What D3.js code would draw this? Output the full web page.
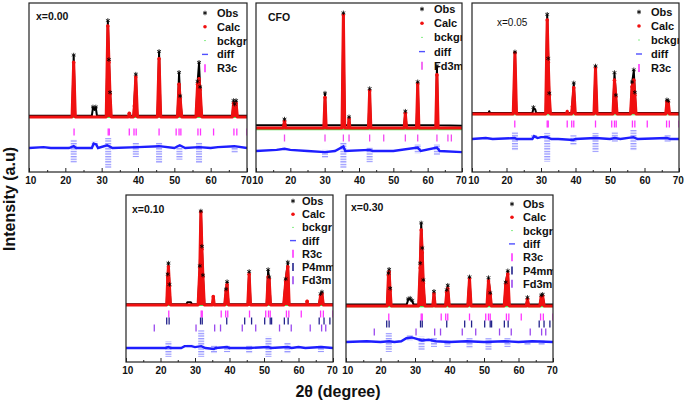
<!DOCTYPE html>
<html>
<head>
<meta charset="utf-8">
<script src="https://cdn.jsdelivr.net/npm/d3@7"></script>
<style>
  body { margin: 0; background: #fff; }
  text { font-family: "Liberation Sans", Arial, sans-serif; }
</style>
</head>
<body>
<script>
// ---- data (2theta in degrees, intensity in arbitrary units, tallest calc peak = 100) ----

// x = 0.00
var calc00 = [[10,0],[21.85,0],[22.3,60],[22.75,0],[31.25,0],[31.7,100],[32.0,60],[32.3,25],[32.65,0],
  [37.35,0],[37.6,4],[37.85,0],[38.75,0],[39.0,12],[39.4,44],[39.85,0],[45.35,0],[45.8,64],[46.25,0],
  [50.85,0],[51.3,36],[51.6,20],[52.05,0],[55.95,0],[56.4,36],[56.8,42],[57.1,30],[57.55,0],
  [65.95,0],[66.3,15],[66.6,12],[67.0,15],[67.35,0],[70,0]];
var obs00 = [[10,1.5],[21.9,1.5],[22.3,67],[22.7,1.5],[27.3,1.5],[27.6,10],[28.0,8],[28.4,10],[28.7,1.5],
  [31.3,1.5],[31.7,105],[32.0,62],[32.3,26],[32.6,1.5],[38.8,1.5],[39.4,46],[39.8,1.5],[45.4,1.5],[45.8,71],[46.2,1.5],
  [50.9,1.5],[51.3,48],[51.6,22],[52.0,1.5],[56.0,1.5],[56.4,38],[56.8,59],[57.1,32],[57.5,1.5],
  [66.0,1.5],[66.3,17],[66.6,13],[67.0,17],[67.3,1.5],[70,1.5]];
var bck00 = [[10,-0.5],[70,-0.5]];
var diff00 = [[10,0],[14,1],[16,0],[21,0],[22.3,2],[23,0],[27.3,0],[27.8,5],[28.5,4],[29,0],[31.5,3],[32.5,1],[33,0],
  [40,1],[45.8,2],[50,0],[51.5,3],[53,0],[56.8,1],[60,0],[62,1],[66.5,2],[70,0]];
var spread00 = [[22.3,9,16],[28.1,7,-2],[31.8,11,22],[39.4,5.5,10],[45.8,6.5,16.5],[51.4,3.5,13],[56.8,6.5,16.5],[66.6,1.5,5.5]];

// CFO
var calcCFO = [[10,0],[17.95,0],[18.3,6],[18.65,0],[29.75,0],[30.1,27],[30.45,0],[35.05,0],[35.45,100],[35.85,0],
  [36.85,0],[37.1,8],[37.35,0],[42.75,0],[43.1,33],[43.45,0],[53.15,0],[53.5,13],[53.85,0],[56.75,0],[57.1,39],[57.45,0],
  [62.35,0],[62.7,47],[63.05,0],[70,0]];
var obsCFO = [[10,2.5],[18.0,2.5],[18.3,7],[18.6,2.5],[29.8,2.5],[30.1,30],[30.4,2.5],[35.1,2.5],[35.45,101],[35.8,2.5],
  [36.9,2.5],[37.1,9],[37.3,2.5],[42.8,2.5],[43.1,34],[43.4,2.5],[53.2,2.5],[53.5,14],[53.8,2.5],[56.8,2.5],[57.1,40],[57.4,2.5],
  [62.4,2.5],[62.7,54],[63.0,2.5],[70,2]];
var bckCFO = [[10,-1.5],[70,-1.5]];
var diffCFO = [[10,0],[16,1],[18.3,2],[20,1],[25,0],[30.1,-1],[33,0],[35.45,4],[36,0],[43.1,1],[44,0],[50,0],
  [57.1,3],[58,0],[62.7,3],[63.5,0],[70,-1]];
var spreadCFO = [[30.1,1,6],[35.45,8,15],[43.1,3.5,10],[57.1,6,2],[62.7,6,3.5]];

// x = 0.05
var calc05 = [[10,0],[21.95,0],[22.45,65],[22.9,0],[31.35,0],[31.8,100],[32.1,55],[32.4,20],[32.75,0],
  [37.35,0],[37.6,3],[37.85,0],[38.85,0],[39.1,8],[39.5,28],[39.95,0],[45.35,0],[45.8,49],[46.25,0],
  [50.85,0],[51.3,36],[51.7,18],[52.05,0],[55.95,0],[56.4,29],[56.9,36],[57.2,20],[57.55,0],
  [66.15,0],[66.5,13],[66.9,12],[67.25,0],[70,0]];
var obs05 = [[10,1],[14.8,1],[15,3],[15.2,1],[22.0,1],[22.45,65],[22.85,1],[27.5,1],[27.8,6],[28.3,5],[28.6,1],
  [31.4,1],[31.8,105],[32.1,58],[32.4,21],[32.7,1],[38.9,1],[39.5,32],[39.9,1],[45.4,1],[45.8,50],[46.2,1],
  [50.9,1],[51.3,43],[51.7,19],[52.0,1],[56.0,1],[56.4,33],[56.9,46],[57.2,22],[57.5,1],
  [66.2,1],[66.5,14],[66.9,13],[67.2,1],[70,1]];
var bck05 = [[10,-0.8],[70,-0.8]];
var diff05 = [[10,0],[14,1],[16,0],[22.4,1],[23,0],[27.5,0],[28,3],[29,1],[30,2],[31.8,2],[33,0],[35,0],
  [39.4,-1],[40,0],[45.8,1],[50,0],[51.4,1],[53,0],[56.8,2],[58,0],[66.5,1],[67.5,0],[70,0]];
var spread05 = [[22.45,7.5,12],[28,4,-1],[31.8,6.5,24],[39.4,4,6.5],[45.8,6.5,14],[51.4,7.5,3],[56.8,9.5,12],[66.7,4,3]];

// x = 0.10
var calc10 = [[10,0],[21.8,0],[22.1,30],[22.3,41],[22.6,20],[22.9,0],[30.9,0],[31.4,40],[31.7,100],[32.0,60],[32.3,30],[32.7,0],
  [35.0,0],[35.3,9],[35.6,0],[38.6,0],[39.0,15],[39.3,22],[39.7,0],[45.3,0],[45.7,33],[46.1,0],
  [50.8,0],[51.2,30],[51.5,28],[51.9,0],[55.7,0],[56.3,25],[56.9,41],[57.3,0],[62.3,0],[62.5,4],[62.7,0],
  [66.0,0],[66.4,10],[66.8,12],[67.2,0],[70,0]];
var obs10 = [[10,0.8],[21.8,0.8],[22.1,32],[22.3,44],[22.6,21],[22.9,0.8],[27.5,0.8],[27.8,3],[28.8,3],[29.1,0.8],
  [30.9,0.8],[31.4,41],[31.7,100],[32.0,62],[32.3,31],[32.7,0.8],[38.6,0.8],[39.0,16],[39.3,24],[39.7,0.8],
  [45.3,0.8],[45.7,35],[46.1,0.8],[50.8,0.8],[51.2,37],[51.5,29],[51.9,0.8],[55.7,0.8],[56.3,27],[56.9,45],[57.3,0.8],
  [66.0,0.8],[66.4,11],[66.8,13],[67.2,0.8],[70,0.8]];
var bck10 = [[10,-0.5],[70,-0.5]];
var diff10 = [[10,0],[21.5,0],[22.3,1],[23,0],[26,0],[27,2],[29,2],[30,1],[31.8,2],[33,0],[35.5,-1],[36,0],
  [39.3,1],[40,0],[45.7,0],[51.3,1],[52,0],[56.9,1],[58,0],[60,1],[62,0],[66.5,1],[70,0]];
var spread10 = [[22.3,7,9.5],[28.5,3.5,-0.5],[31.8,19,9.5],[35.5,3,5.5],[39.3,3,4.5],[45.7,3,5.5],[51.3,12,9.5],[56.8,5.5,5.5],[66.5,3,4.5]];

// x = 0.30
var calc30 = [[10,0],[21.95,0],[22.3,40],[22.5,45],[22.8,20],[23.1,0],[31.05,0],[31.5,50],[31.8,100],[32.1,70],[32.4,30],[32.85,0],
  [35.15,0],[35.5,16],[35.85,0],[38.85,0],[39.2,18],[39.5,23],[39.95,0],[45.3,0],[45.8,36],[46.25,0],
  [50.85,0],[51.3,33],[51.8,15],[52.15,0],[55.85,0],[56.3,28],[56.9,42],[57.35,0],[62.25,0],[62.6,9],[62.95,0],
  [66.15,0],[66.6,12],[67.0,13],[67.45,0],[70,0]];
var obs30 = [[10,2],[22.0,2],[22.3,42],[22.5,47],[22.8,22],[23.0,2],[27.6,2],[28.0,8],[28.6,9],[29.2,6],[29.6,2],
  [31.1,2],[31.5,55],[31.8,108],[32.1,75],[32.4,33],[32.8,2],[35.2,2],[35.5,18],[35.8,2],[38.9,2],[39.2,20],[39.5,26],[39.9,2],
  [45.3,2],[45.8,37],[46.2,2],[50.9,2],[51.3,36],[51.8,16],[52.1,2],[55.9,2],[56.3,30],[56.9,45],[57.3,2],
  [62.3,2],[62.6,10],[62.9,2],[66.2,2],[66.6,13],[67.0,14],[67.4,2],[70,2]];
var bck30 = [[10,-0.8],[70,-0.8]];
var diff30 = [[10,0],[16,1],[20,0],[22.5,1],[24,0],[26,1],[27.5,5],[29,6],[30.5,4],[32,2],[34,3],[36,1],[40,0],
  [45,1],[50,0],[56,1],[60,0],[64,1],[70,0]];
var spread30 = [[22.4,12,13],[28.5,9,-2],[31.9,7,10.5],[35.5,5,6.6],[39.4,2.6,6.6],[45.8,5,8],[51.3,5,10.5],[56.8,5,6.6],[62.6,1.5,4],[66.7,2.6,4]];

// Bragg reflection positions
var r3cTicks = [22.4, 31.8, 32.1, 37.6, 38.9, 39.5, 45.8, 50.5, 51.3, 51.8, 56.5, 57.2, 60.8, 66.4, 67.2, 70.0];
var p4mmTicks = [21.8, 22.5, 31.6, 32.1, 39.2, 44.4, 46.4, 50.2, 51.8, 52.2, 55.9, 57.0, 66.0, 67.4, 69.1];
var fd3mCfoTicks = [18.3, 30.1, 35.45, 37.1, 43.1, 47.2, 53.5, 57.1, 62.7, 65.9, 66.9];
var fd3mTicks = [18.2, 30.3, 35.7, 37.4, 43.7, 47.6, 54.5, 57.9, 63.4, 66.7, 67.9];

var xTicks = [10, 20, 30, 40, 50, 60, 70];
var xMinor = [15, 25, 35, 45, 55, 65];

// ---- layout ----
var W = 685, H = 401;
var cR3c = '#ff33ff', cP4mm = '#23238c', cFd3m = '#9a48ee';

var panels = [
  {title: 'x=0.00', tBold: true, tx: 36, ty: 20, calc: calc00, obs: obs00, bck: bck00, diff: diff00, spread: spread00,
   phases: [{name: 'R3c', ticks: r3cTicks, color: cR3c, y: 132}],
   left: 29, right: 247, top: 3, bottom: 172, base: 117, unit: 0.91, diffY: 148,
   leg: {sx: 205, tx: 217, y: 13, dy: 13.8}},
  {title: 'CFO', tBold: true, tx: 268, ty: 21, calc: calcCFO, obs: obsCFO, bck: bckCFO, diff: diffCFO, spread: spreadCFO,
   phases: [{name: 'Fd3m', ticks: fd3mCfoTicks, color: '#f04af0', y: 138}],
   left: 256, right: 462, top: 3, bottom: 172, base: 128, unit: 1.13, diffY: 151,
   leg: {sx: 422, tx: 434, y: 9, dy: 14.2}},
  {title: 'x=0.05', tBold: false, tx: 497, ty: 26, calc: calc05, obs: obs05, bck: bck05, diff: diff05, spread: spread05,
   phases: [{name: 'R3c', ticks: r3cTicks, color: cR3c, y: 124}],
   left: 472, right: 679, top: 3, bottom: 172, base: 114, unit: 0.94, diffY: 139,
   leg: {sx: 639, tx: 651, y: 12, dy: 14}},
  {title: 'x=0.10', tBold: true, tx: 132, ty: 213, calc: calc10, obs: obs10, bck: bck10, diff: diff10, spread: spread10,
   phases: [{name: 'R3c', ticks: r3cTicks, color: cR3c, y: 314},
            {name: 'P4mm', ticks: p4mmTicks, color: cP4mm, y: 321},
            {name: 'Fd3m', ticks: fd3mTicks, color: cFd3m, y: 328}],
   left: 126, right: 333, top: 195, bottom: 362, base: 305, unit: 0.93, diffY: 348,
   leg: {sx: 293, tx: 302, y: 201, dy: 13.2}},
  {title: 'x=0.30', tBold: true, tx: 351, ty: 211, calc: calc30, obs: obs30, bck: bck30, diff: diff30, spread: spread30,
   phases: [{name: 'R3c', ticks: r3cTicks, color: cR3c, y: 317},
            {name: 'P4mm', ticks: p4mmTicks, color: cP4mm, y: 324},
            {name: 'Fd3m', ticks: fd3mTicks, color: cFd3m, y: 332}],
   left: 346, right: 553, top: 195, bottom: 362, base: 306, unit: 0.76, diffY: 342,
   leg: {sx: 512, tx: 523, y: 204, dy: 13.3}}
];

var svg = d3.select('body').append('svg')
  .attr('width', W)
  .attr('height', H);

var defs = svg.append('defs');
// stacked short dashes used for the spread of the difference curve
var pat = defs.append('pattern')
  .attr('id', 'dash')
  .attr('patternUnits', 'userSpaceOnUse')
  .attr('width', 8)
  .attr('height', 2.6);
pat.append('rect')
  .attr('width', 8).attr('height', 1.3)
  .attr('fill', '#6a6aff')
  .attr('opacity', 0.7);

panels.forEach(function (p, i) {
  var x = d3.scaleLinear().domain([10, 70]).range([p.left, p.right]);
  var y = d3.scaleLinear().domain([0, 100]).range([p.base, p.base - 100 * p.unit]);
  var diffOff = y.invert(p.diffY);

  defs.append('clipPath').attr('id', 'clip' + i)
    .append('rect')
    .attr('x', p.left).attr('y', p.top)
    .attr('width', p.right - p.left).attr('height', p.bottom - p.top);

  var g = svg.append('g');
  var inner = g.append('g').attr('clip-path', 'url(#clip' + i + ')');

  // difference curve: spread of dashes, then the line
  inner.selectAll('rect.spread')
    .data(p.spread)
    .enter()
    .append('rect')
    .attr('class', 'spread')
    .attr('x', function (d) { return x(d[0]) - 3; })
    .attr('width', 6)
    .attr('y', function (d) { return y(diffOff + d[1]); })
    .attr('height', function (d) { return Math.max(1.3, y(diffOff - d[2]) - y(diffOff + d[1])); })
    .attr('fill', 'url(#dash)');

  var line = d3.line()
    .x(function (d) { return x(d[0]); })
    .y(function (d) { return y(d[1]); });
  var diffLine = d3.line()
    .x(function (d) { return x(d[0]); })
    .y(function (d) { return y(diffOff + d[1]); });

  inner.append('path')
    .attr('d', diffLine(p.diff))
    .attr('fill', 'none')
    .attr('stroke', '#1e1eff')
    .attr('stroke-width', 2.4);

  // Bragg ticks
  p.phases.forEach(function (ph) {
    inner.selectAll(null)
      .data(ph.ticks)
      .enter()
      .append('line')
      .attr('x1', function (d) { return x(d); })
      .attr('x2', function (d) { return x(d); })
      .attr('y1', ph.y - 3.5)
      .attr('y2', ph.y + 3.5)
      .attr('stroke', ph.color)
      .attr('stroke-width', 1.3);
  });

  // observed
  inner.append('path')
    .attr('d', line(p.obs))
    .attr('fill', 'none')
    .attr('stroke', '#000')
    .attr('stroke-width', 2)
    .attr('stroke-linejoin', 'round');

  // background
  inner.append('path')
    .attr('d', line(p.bck))
    .attr('fill', 'none')
    .attr('stroke', '#55dd55')
    .attr('stroke-width', 1.2);

  // calculated
  inner.append('path')
    .attr('d', line(p.calc))
    .attr('fill', '#f01010')
    .attr('stroke', '#f01010')
    .attr('stroke-width', 3)
    .attr('stroke-linejoin', 'round');

  inner.selectAll('circle.calc')
    .data(p.calc.filter(function (d) { return d[1] > 3; }))
    .enter()
    .append('circle')
    .attr('class', 'calc')
    .attr('cx', function (d) { return x(d[0]); })
    .attr('cy', function (d) { return y(d[1]); })
    .attr('r', 1.8)
    .attr('fill', '#f01010');

  var star = d3.symbol().type(d3.symbolAsterisk).size(14);
  inner.selectAll('path.obs')
    .data(p.obs.filter(function (d) { return d[1] > 5; }))
    .enter()
    .append('path')
    .attr('class', 'obs')
    .attr('d', star)
    .attr('transform', function (d) { return 'translate(' + x(d[0]) + ',' + (y(d[1]) - 1) + ')'; })
    .attr('fill', 'none')
    .attr('stroke', '#000')
    .attr('stroke-width', 0.8);

  // legend
  var items = ['Obs', 'Calc', 'bckgr', 'diff'].concat(p.phases.map(function (ph) { return ph.name; }));
  var leg = inner.selectAll('g.leg')
    .data(items)
    .enter()
    .append('g')
    .attr('class', 'leg')
    .attr('transform', function (d, k) { return 'translate(0,' + (p.leg.y + k * p.leg.dy) + ')'; });

  leg.append('text')
    .attr('x', p.leg.tx)
    .attr('y', 4)
    .attr('font-size', 11)
    .attr('font-weight', 'bold')
    .attr('fill', '#111')
    .text(function (d) { return d; });

  leg.each(function (d, k) {
    var s = d3.select(this);
    if (d === 'Obs') {
      s.append('path').attr('d', star).attr('transform', 'translate(' + p.leg.sx + ',0)')
        .attr('fill', 'none').attr('stroke', '#000').attr('stroke-width', 0.9);
    } else if (d === 'Calc') {
      s.append('circle').attr('cx', p.leg.sx).attr('cy', 0).attr('r', 1.8).attr('fill', '#f01010');
    } else if (d === 'bckgr') {
      s.append('line').attr('x1', p.leg.sx - 1).attr('x2', p.leg.sx + 1).attr('y1', 0).attr('y2', 0)
        .attr('stroke', '#88ee88').attr('stroke-width', 1);
    } else if (d === 'diff') {
      s.append('line').attr('x1', p.leg.sx - 3).attr('x2', p.leg.sx + 3).attr('y1', 0).attr('y2', 0)
        .attr('stroke', '#5050ff').attr('stroke-width', 1.4);
    } else {
      var ph = p.phases[k - 4];
      s.append('line').attr('x1', p.leg.sx).attr('x2', p.leg.sx).attr('y1', -4).attr('y2', 4)
        .attr('stroke', ph.color).attr('stroke-width', 1.6);
    }
  });

  // title
  g.append('text')
    .attr('x', p.tx)
    .attr('y', p.ty)
    .attr('font-size', p.tBold ? 10.5 : 10)
    .attr('font-weight', p.tBold ? 'bold' : 'normal')
    .attr('fill', '#111')
    .text(p.title);

  // frame
  g.append('rect')
    .attr('x', p.left).attr('y', p.top)
    .attr('width', p.right - p.left).attr('height', p.bottom - p.top)
    .attr('fill', 'none')
    .attr('stroke', '#222')
    .attr('stroke-width', 1.2);

  // x axis
  var ax = g.append('g')
    .attr('transform', 'translate(0,' + p.bottom + ')')
    .call(d3.axisBottom(x).tickValues(xTicks).tickSizeInner(-4).tickSizeOuter(0).tickPadding(5)
      .tickFormat(d3.format('d')));
  ax.select('.domain').remove();
  ax.selectAll('line').attr('stroke', '#222');
  ax.selectAll('text')
    .attr('font-size', 10)
    .attr('font-weight', 'bold')
    .attr('fill', '#111')
    .attr('dx', function (d) { return d === 10 ? 1.3 : (d === 70 ? -1.3 : 0); })
    .style('font-family', '"Liberation Sans", Arial, sans-serif');

  var axm = g.append('g')
    .attr('transform', 'translate(0,' + p.bottom + ')')
    .call(d3.axisBottom(x).tickValues(xMinor).tickSizeInner(-2).tickSizeOuter(0).tickFormat(''));
  axm.select('.domain').remove();
  axm.selectAll('line').attr('stroke', '#222');
});

// shared axis titles
svg.append('text')
  .attr('transform', 'translate(15,199) rotate(-90)')
  .attr('text-anchor', 'middle')
  .attr('font-size', 16)
  .attr('font-weight', 'bold')
  .attr('fill', '#111')
  .text('Intensity (a.u)');

svg.append('text')
  .attr('x', 338)
  .attr('y', 397)
  .attr('text-anchor', 'middle')
  .attr('font-size', 16)
  .attr('font-weight', 'bold')
  .attr('fill', '#111')
  .text('2θ (degree)');
</script>
</body>
</html>
